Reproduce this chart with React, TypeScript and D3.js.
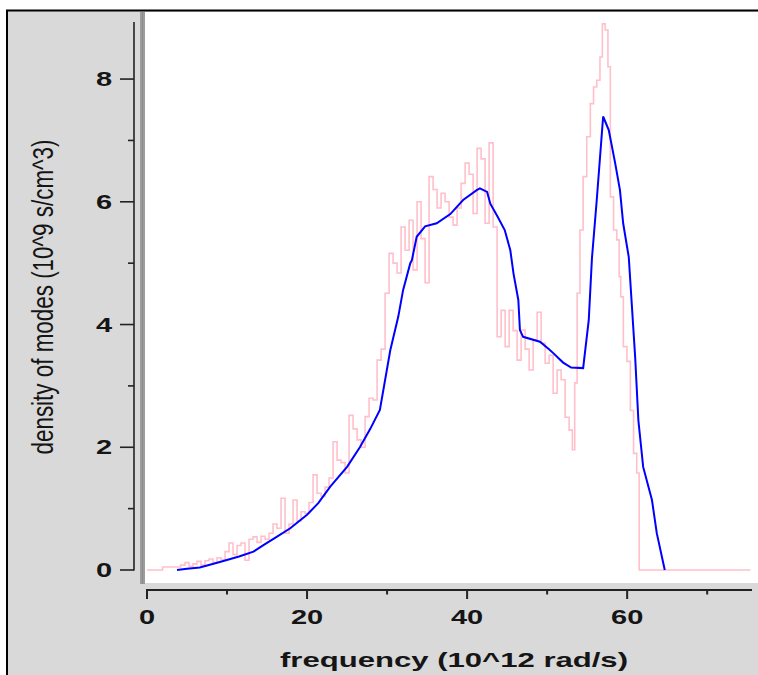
import React from "react";
import * as d3 from "d3";

// Pink: raw density of modes (frequency, value)
const pinkX = [
  0, 3.9, 4.5, 5.0, 5.5, 6.0, 6.5, 7.0, 7.5, 8.0, 8.5, 9.0, 9.5, 10.0, 10.5, 11.0, 11.5, 12.0, 12.5, 13.0,
  13.5, 14.0, 14.5, 15.0, 15.5, 16.0, 16.5, 17.0, 17.5, 18.0, 18.5, 19.0, 19.5, 20.0, 20.5, 21.0, 21.5,
  22.0, 22.5, 23.0, 23.5, 24.0, 24.5, 25.0, 25.5, 26.0, 26.5, 27.0, 27.5, 28.0, 28.5, 29.0, 29.5, 30.0,
  30.5, 31.0, 31.5, 32.0, 32.5, 33.0, 33.5, 34.0, 34.5, 35.0, 35.5, 36.0, 36.5, 37.0, 37.5, 38.0, 38.5,
  39.0, 39.5, 40.0, 40.5, 41.0, 41.5, 42.0, 42.5, 43.0, 43.5, 44.0, 44.5, 45.0, 45.5, 46.0, 46.5, 47.0,
  47.5, 48.0, 48.5, 49.0, 49.5, 50.0, 50.5, 51.0, 51.5, 52.0, 52.5, 53.0, 53.3, 53.6, 53.9, 54.3, 54.7,
  55.2, 55.6, 56.0, 56.4, 56.8, 57.0, 57.5, 57.7, 58.1, 58.5, 58.9, 59.1, 59.3, 59.75, 60.2, 60.6, 61.0,
  61.4, 61.6, 75.4,
];
const pinkY = [
  0, 0.05, 0.08, 0.12, 0.06, 0.1, 0.14, 0.08, 0.15, 0.18, 0.12, 0.2, 0.17, 0.3, 0.44, 0.25, 0.4, 0.44, 0.16, 0.5,
  0.54, 0.45, 0.55, 0.5, 0.6, 0.75, 0.68, 1.17, 0.6, 0.75, 1.14, 0.8, 0.95, 0.92, 1.1, 1.55, 1.25,
  1.2, 1.35, 1.5, 2.09, 1.79, 1.75, 1.58, 2.52, 2.3, 2.12, 2.0, 2.5, 2.8, 2.77, 3.42, 3.6, 4.51,
  5.16, 5.0, 4.84, 5.59, 5.21, 5.7, 4.89, 6.0, 5.4, 4.68, 6.41, 6.2, 5.9, 6.14, 6.0, 5.75, 5.62,
  5.9, 6.3, 6.63, 6.45, 5.81, 6.87, 6.7, 5.65, 6.96, 5.59, 3.8, 4.23, 3.64, 4.23, 3.9, 3.42, 3.91,
  3.6, 3.26, 3.75, 4.2, 3.7, 3.37, 3.5, 2.88, 3.26, 3.1, 2.49, 2.28, 1.96, 3.05, 4.51, 5.54, 6.41,
  7.06, 7.6, 7.87, 7.98, 8.36, 8.9, 8.8, 8.2, 6.08, 5.54, 5.38, 4.78, 4.45, 3.64, 3.4, 2.6, 1.9,
  1.58, 0, 0,
];

// Blue: smoothed density of modes
const blueX = [
  3.75, 5.0, 6.6, 9.1, 11.5, 13.3, 14.5, 16.2, 17.9, 20.0, 21.4, 22.9, 25.0, 26.6, 27.9, 29.1, 30.4,
  31.4, 32.0, 32.9, 33.1, 33.7, 34.75, 36.2, 37.9, 39.5, 41.2, 41.6, 42.5, 42.9, 43.8, 44.7, 45.4,
  45.8, 46.4, 46.6, 47.0, 49.1, 50.2, 50.8, 52.0, 53.0, 54.5, 55.2, 55.6, 56.2, 57.0, 57.7, 58.5,
  59.1, 59.5, 60.2, 61.0, 61.4, 62.0, 63.1, 63.7, 64.7,
];
const blueY = [
  0, 0.02, 0.04, 0.13, 0.22, 0.3, 0.4, 0.54, 0.68, 0.9, 1.09, 1.36, 1.68, 2.0, 2.3, 2.61, 3.58,
  4.13, 4.56, 5.0, 5.05, 5.43, 5.6, 5.65, 5.8, 6.03, 6.19, 6.22, 6.16, 5.97, 5.76, 5.54, 5.21,
  4.83, 4.4, 3.91, 3.8, 3.72, 3.6, 3.53, 3.38, 3.3, 3.29, 4.07, 5.08, 6.03, 7.39, 7.17, 6.63,
  6.19, 5.65, 5.1, 3.47, 2.44, 1.68, 1.14, 0.6, 0,
];

const xMajor = [0, 20, 40, 60];
const xMinor = [10, 30, 50, 70];
const yMajor = [0, 2, 4, 6, 8];
const yMinor = [1, 3, 5, 7];

const xTitle = "frequency (10^12 rad/s)";
const yTitle = "density of modes (10^9 s/cm^3)";

export default function App() {
  const W = 758;
  const H = 675;
  const x = d3.scaleLinear().domain([0, 75.6]).range([147, 752]);
  const y = d3.scaleLinear().domain([0, 8.93]).range([570, 22]);

  const pinkData: [number, number][] = pinkX.map((v, i) => [v, pinkY[i]]);
  const blueData: [number, number][] = blueX.map((v, i) => [v, blueY[i]]);

  const pinkLine = d3
    .line<[number, number]>()
    .x((d) => x(d[0]))
    .y((d) => y(d[1]))
    .curve(d3.curveStep);
  const blueLine = d3
    .line<[number, number]>()
    .x((d) => x(d[0]))
    .y((d) => y(d[1]));

  const textColor = "#151515";
  const font = "'Liberation Sans', Arial, sans-serif";
  const sx = 1.45;

  return (
    <svg
      width={W}
      height={H}
      style={{ position: "absolute", left: 0, top: 0, display: "block" }}
    >
      <rect x={0} y={0} width={W} height={H} fill="#ffffff" />
      <rect x={7} y={10} width={W - 7} height={H - 10} fill="#d9d9d9" />
      {/* plot area */}
      <rect x={145} y={12} width={W - 145} height={571} fill="#ffffff" />
      <rect x={140} y={12} width={5} height={572} fill="#9c9c9c" />
      <line x1={142.5} x2={142.5} y1={12} y2={584} stroke="#8a8a8a" strokeWidth={1} />
      {/* outer border */}
      <line x1={6} x2={W} y1={10.5} y2={10.5} stroke="#000" strokeWidth={2} />
      <line x1={7} x2={7} y1={10} y2={H} stroke="#000" strokeWidth={2} />

      {/* data */}
      <path d={pinkLine(pinkData) || ""} fill="none" stroke="#ffc0cb" strokeWidth={1.6} />
      <path d={blueLine(blueData) || ""} fill="none" stroke="#0000ff" strokeWidth={2} />

      {/* y axis */}
      <line x1={134} x2={134} y1={22} y2={570.5} stroke="#222" strokeWidth={1.6} />
      {yMajor.map((t) => (
        <g key={"ym" + t}>
          <line x1={120} x2={134} y1={y(t)} y2={y(t)} stroke="#222" strokeWidth={1.6} />
          <text
            transform={`translate(112, ${y(t) + 7.2}) scale(${sx}, 1)`}
            textAnchor="end"
            fontFamily={font}
            fontWeight="bold"
            fontSize={20}
            fill={textColor}
          >
            {t}
          </text>
        </g>
      ))}
      {yMinor.map((t) => (
        <line key={"yn" + t} x1={128} x2={134} y1={y(t)} y2={y(t)} stroke="#222" strokeWidth={1.6} />
      ))}

      {/* x axis */}
      <line x1={146} x2={752} y1={590} y2={590} stroke="#222" strokeWidth={2} />
      {xMajor.map((t) => (
        <g key={"xm" + t}>
          <line x1={x(t)} x2={x(t)} y1={590} y2={599} stroke="#222" strokeWidth={2} />
          <text
            transform={`translate(${x(t)}, 623.5) scale(${sx}, 1)`}
            textAnchor="middle"
            fontFamily={font}
            fontWeight="bold"
            fontSize={20}
            fill={textColor}
          >
            {t}
          </text>
        </g>
      ))}
      {xMinor.map((t) => (
        <line key={"xn" + t} x1={x(t)} x2={x(t)} y1={590} y2={594.5} stroke="#222" strokeWidth={2} />
      ))}

      {/* titles */}
      <text
        transform={`translate(454, 667) scale(1.48, 1)`}
        textAnchor="middle"
        fontFamily={font}
        fontWeight="bold"
        fontSize={21}
        fill={textColor}
      >
        {xTitle}
      </text>
      <text
        transform={`translate(53, 297) scale(${sx}, 1) rotate(-90)`}
        textAnchor="middle"
        fontFamily={font}
        fontSize={20}
        textLength={315}
        lengthAdjust="spacingAndGlyphs"
        fill={textColor}
      >
        {yTitle}
      </text>
    </svg>
  );
}
